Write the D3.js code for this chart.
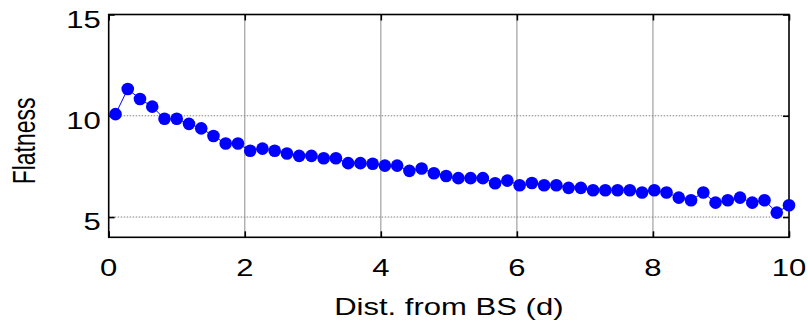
<!DOCTYPE html>
<html>
<head>
<meta charset="utf-8">
<script src="https://cdn.jsdelivr.net/npm/d3@7"></script>
<style>
  html, body { margin: 0; padding: 0; background: #fff; }
  svg { display: block; }
  text { font-family: "Liberation Sans", Arial, sans-serif; fill: #000; }
</style>
</head>
<body>
<svg id="chart" width="808" height="324"></svg>
<script>
// Distance from base station (in units of d)
const distances = [0.1, 0.28, 0.46, 0.64, 0.82, 1.0, 1.18, 1.36, 1.54, 1.72, 1.9, 2.08, 2.26, 2.44,
  2.62, 2.8, 2.98, 3.16, 3.34, 3.52, 3.7, 3.88, 4.06, 4.24, 4.42, 4.6, 4.78, 4.96, 5.14, 5.32,
  5.5, 5.68, 5.86, 6.04, 6.22, 6.4, 6.58, 6.76, 6.94, 7.12, 7.3, 7.48, 7.66, 7.84, 8.02, 8.2,
  8.38, 8.56, 8.74, 8.92, 9.1, 9.28, 9.46, 9.64, 9.82, 10.0];

// Flatness measured at each distance
const flatness = [10.08, 11.32, 10.83, 10.45, 9.85, 9.85, 9.6, 9.38, 9.0, 8.63, 8.63, 8.27, 8.38, 8.27,
  8.14, 8.02, 8.02, 7.9, 7.9, 7.66, 7.66, 7.63, 7.54, 7.54, 7.28, 7.4, 7.16, 7.03, 6.92, 6.92,
  6.92, 6.67, 6.8, 6.57, 6.68, 6.57, 6.57, 6.44, 6.44, 6.32, 6.32, 6.32, 6.32, 6.21, 6.32, 6.21,
  5.96, 5.83, 6.21, 5.71, 5.83, 5.96, 5.71, 5.83, 5.22, 5.58];

const xTicks = [0, 2, 4, 6, 8, 10];
const yTicks = [5, 10, 15];
const xTitle = "Dist. from BS (d)";
const yTitle = "Flatness";

const points = distances.map((d, i) => ({ x: d, y: flatness[i] }));

const svg = d3.select("#chart");
const plot = { left: 108.7, right: 789, top: 14.5, bottom: 237.3 };
const stretch = 1.35;   // text is drawn wider than tall
const fontSize = 23;

const x = d3.scaleLinear().domain([0, 10]).range([plot.left, plot.right]);
const y = d3.scaleLinear().domain([4, 15]).range([plot.bottom, plot.top]);

// grid: solid verticals, dotted horizontals
svg.append("g")
  .selectAll("line")
  .data(xTicks.filter(t => t > 0 && t < 10))
  .join("line")
  .attr("x1", d => x(d)).attr("x2", d => x(d))
  .attr("y1", plot.top).attr("y2", plot.bottom)
  .attr("stroke", "#a0a0a0").attr("stroke-width", 1.2);

svg.append("g")
  .selectAll("line")
  .data(yTicks.filter(t => t < 15))
  .join("line")
  .attr("x1", plot.left).attr("x2", plot.right)
  .attr("y1", d => y(d)).attr("y2", d => y(d))
  .attr("stroke", "#808080").attr("stroke-width", 1)
  .attr("stroke-dasharray", "1.5,1.5");

// axes with inward ticks on all four sides
const tickLen = 6;
const axisStyle = g => {
  g.select(".domain").remove();
  g.selectAll(".tick line").attr("stroke", "#000").attr("stroke-width", 1.6);
  g.selectAll(".tick text").remove();
};
svg.append("g").attr("transform", `translate(0,${plot.bottom})`)
  .call(d3.axisBottom(x).tickValues(xTicks).tickSizeInner(-tickLen).tickSizeOuter(0)).call(axisStyle);
svg.append("g").attr("transform", `translate(0,${plot.top})`)
  .call(d3.axisTop(x).tickValues(xTicks).tickSizeInner(-tickLen).tickSizeOuter(0)).call(axisStyle);
svg.append("g").attr("transform", `translate(${plot.left},0)`)
  .call(d3.axisLeft(y).tickValues(yTicks).tickSizeInner(-tickLen).tickSizeOuter(0)).call(axisStyle);
svg.append("g").attr("transform", `translate(${plot.right},0)`)
  .call(d3.axisRight(y).tickValues(yTicks).tickSizeInner(-tickLen).tickSizeOuter(0)).call(axisStyle);

// frame
svg.append("rect")
  .attr("x", plot.left).attr("y", plot.top)
  .attr("width", plot.right - plot.left).attr("height", plot.bottom - plot.top)
  .attr("fill", "none").attr("stroke", "#000").attr("stroke-width", 1.6);

// series line and markers
svg.append("path")
  .datum(points)
  .attr("fill", "none")
  .attr("stroke", "#0000ff")
  .attr("stroke-width", 1)
  .attr("d", d3.line().x(d => x(d.x)).y(d => y(d.y)));

svg.append("g")
  .selectAll("circle")
  .data(points)
  .join("circle")
  .attr("cx", d => x(d.x))
  .attr("cy", d => y(d.y))
  .attr("r", 6.3)
  .attr("fill", "#0000ff");

// tick labels
svg.append("g")
  .selectAll("text")
  .data(xTicks)
  .join("text")
  .attr("transform", d => `translate(${x(d)},${plot.bottom + 39}) scale(${stretch},1)`)
  .attr("text-anchor", "middle")
  .attr("font-size", fontSize)
  .text(d => d);

svg.append("g")
  .selectAll("text")
  .data(yTicks)
  .join("text")
  .attr("transform", d => `translate(${plot.left - 8},${y(d) + 13}) scale(${stretch},1)`)
  .attr("text-anchor", "end")
  .attr("font-size", fontSize)
  .text(d => d);

// axis titles
svg.append("text")
  .attr("transform", `translate(${(plot.left + plot.right) / 2},315) scale(${stretch},1)`)
  .attr("text-anchor", "middle")
  .attr("font-size", fontSize)
  .text(xTitle);

svg.append("text")
  .attr("transform", `translate(35,${(plot.top + plot.bottom) / 2 + 15}) scale(${stretch},1) rotate(-90)`)
  .attr("text-anchor", "middle")
  .attr("font-size", fontSize)
  .text(yTitle);
</script>
</body>
</html>
